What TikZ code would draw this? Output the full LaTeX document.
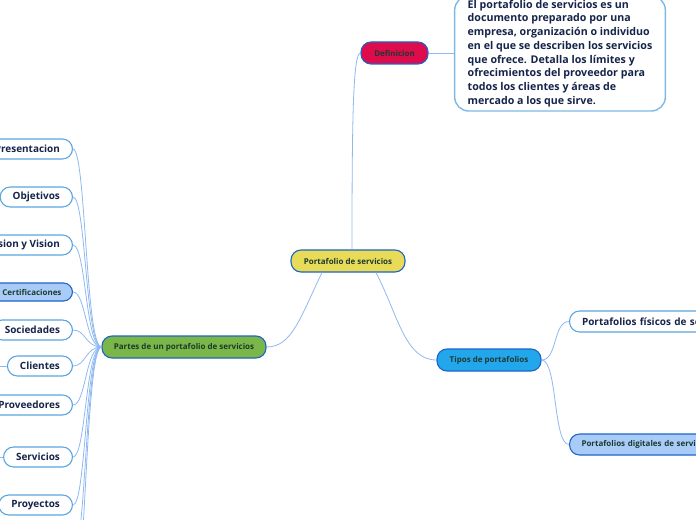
\documentclass[tikz,border=0pt]{standalone}
\usepackage{fontspec}
\setmainfont{Open Sans}
\definecolor{linkc}{HTML}{8FB8F0}
\definecolor{bordc}{HTML}{1E64C8}
\definecolor{leafbord}{HTML}{5AA5E0}
\definecolor{defbord}{HTML}{7DB9E6}
\definecolor{yellowc}{HTML}{E8DB57}
\definecolor{redc}{HTML}{DE0B4D}
\definecolor{greenc}{HTML}{7AB648}
\definecolor{tiposc}{HTML}{23A7EC}
\definecolor{lightbluec}{HTML}{A8CCF7}
\definecolor{darktxt}{HTML}{1C3A30}
\definecolor{navytxt}{HTML}{15244A}
\begin{document}
\begin{tikzpicture}[x=1bp,y=-1bp,
  conn/.style={draw=linkc, line width=0.8bp},
  topic/.style={draw=bordc, line width=1.1bp, rounded corners=10bp, minimum height=22bp,
    inner xsep=0bp, inner ysep=0bp, font=\fontsize{8}{9.6}\selectfont\bfseries, text=darktxt},
  leaf/.style={draw=leafbord, fill=white, line width=1.1bp, rounded corners=10bp, minimum height=20bp,
    inner xsep=12.5bp, inner ysep=0bp, font=\fontsize{10}{12}\selectfont\bfseries, text=navytxt},
  smallleaf/.style={draw=bordc, fill=lightbluec, line width=1.1bp, rounded corners=9bp, minimum height=18bp,
    inner xsep=11bp, inner ysep=0bp, font=\fontsize{8}{9.6}\selectfont\bfseries, text=darktxt},
  defbox/.style={draw=defbord, fill=white, line width=1.4bp, rounded corners=14bp,
    inner xsep=13bp, inner ysep=0bp, align=left, font=\fontsize{10.7}{13.8}\selectfont\bfseries, text=navytxt}
]
\useasboundingbox (0,0) rectangle (696,520);

% main nodes
\node[topic, fill=yellowc, minimum width=114bp] (central) at (348,261) {Portafolio de servicios};
\node[topic, fill=redc, minimum width=67bp] (definicion) at (394.5,53) {Definicion};
\node[defbox, minimum width=206bp, minimum height=115bp] (defi) at (560,53.5) {El portafolio de servicios es un\\documento preparado por una\\empresa, organización o individuo\\en el que se describen los servicios\\que ofrece. Detalla los límites y\\ofrecimientos del proveedor para\\todos los clientes y áreas de\\mercado a los que sirve.};
\node[topic, fill=greenc, minimum width=164bp] (partes) at (184,347) {Partes de un portafolio de servicios};
\node[topic, fill=tiposc, minimum width=104bp] (tipos) at (489,360) {Tipos de portafolios};
\node[leaf, anchor=west, minimum height=21bp, text width=200bp, align=left] (fisicos) at (569,321.5) {Portafolios físicos de servicios};
\node[smallleaf, anchor=west, minimum height=21bp, rounded corners=10bp, text width=200bp, align=left, inner xsep=12bp] (digitales) at (569,444.5) {Portafolios digitales de servicios};

% left children
\node[leaf, anchor=east] (presentacion) at (73,149) {Presentacion};
\node[leaf, anchor=east] (objetivos) at (73,197) {Objetivos};
\node[leaf, anchor=east] (mision) at (73,245) {Mision y Vision};
\node[smallleaf, anchor=east] (certif) at (73,292) {Certificaciones};
\node[leaf, anchor=east] (sociedades) at (73,330) {Sociedades};
\node[leaf, anchor=east] (clientes) at (73,366) {Clientes};
\node[leaf, anchor=east] (proveedores) at (73,405) {Proveedores};
\node[leaf, anchor=east] (servicios) at (73,457) {Servicios};
\node[leaf, anchor=east] (proyectos) at (73,505) {Proyectos};

\coordinate (offA) at (73,555);
\coordinate (offB) at (73,600);
\coordinate (cliL) at (-20,366);
\coordinate (serL) at (-20,457);

% connectors
\draw[conn] (central.north) ++(4,0) coordinate (cTop) .. controls (352,120) and (353,53) .. (definicion.west);
\draw[conn] (definicion.east) -- (defi.west |- definicion.east);
\draw[conn] (central.south) ++(-26,0) coordinate (cBL) .. controls (300,318) and (292,347) .. (partes.east);
\draw[conn] (central.south) ++(28,0) coordinate (cBR) .. controls (398,315) and (405,360) .. (tipos.west);
\draw[conn] (tipos.east) .. controls +(16,0) and +(-16,0) .. (fisicos.west);
\draw[conn] (tipos.east) .. controls +(16,0) and +(-16,0) .. (digitales.west);

\foreach \c in {presentacion,objetivos,mision,certif,sociedades,clientes,proveedores,servicios,proyectos,offA,offB}{
  \draw[conn] (\c.east) .. controls +(13,0) and +(-16,0) .. (partes.west);
}
\draw[conn] (clientes.west) -- (cliL);
\draw[conn] (servicios.west) -- (serL);
\end{tikzpicture}
\end{document}
